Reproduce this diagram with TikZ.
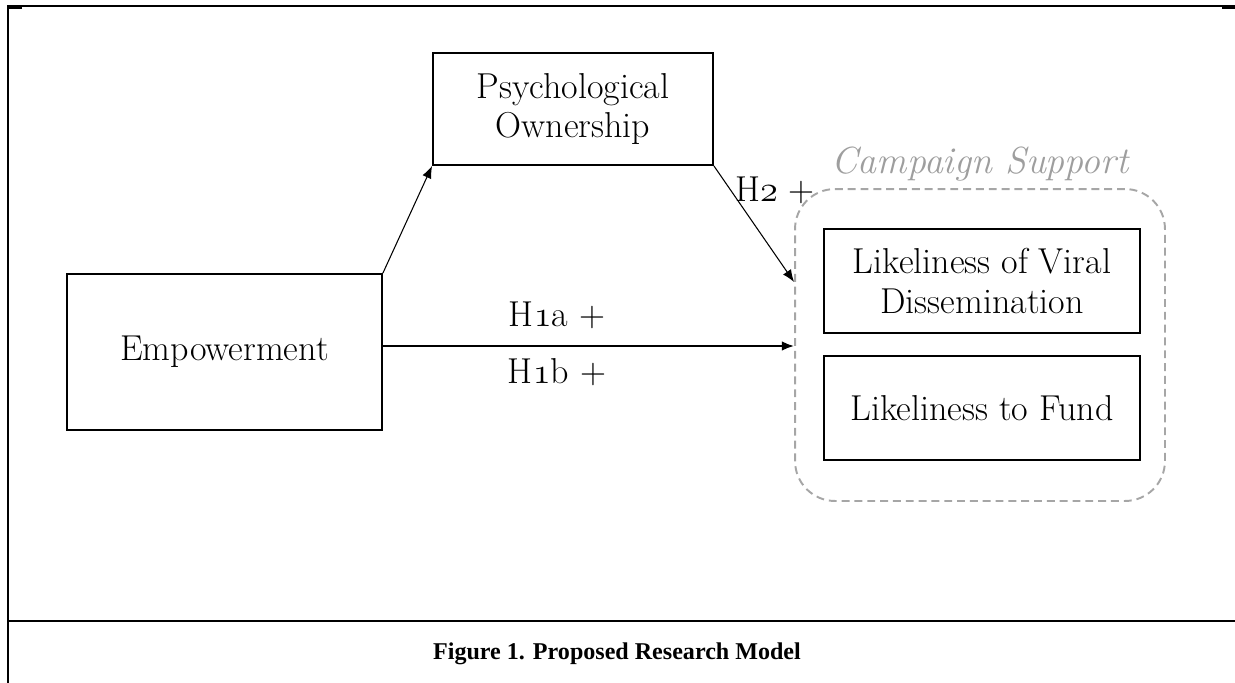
\documentclass[tikz,border=0pt]{standalone}
\usepackage{fontspec}
\usepackage{tikz}
\usetikzlibrary{arrows.meta, positioning}
\newfontfamily\capfont{Liberation Serif}
\newcommand{\onum}[1]{{\usefont{OML}{cmm}{m}{it}#1}}

\begin{document}
\begin{tikzpicture}[x=0.02cm, y=-0.02cm,
        box/.style={rectangle, draw=black, line width=1.1pt, align=center, font=\fontsize{20.5}{22.5}\selectfont},
        group/.style={draw=black!35, line width=1.1pt, dash pattern=on 4.5pt off 2.8pt, rounded corners=0.8cm},
        hyp/.style={font=\fontsize{20.5}{22.5}\selectfont},
        thinline/.style={draw, line width=0.6pt, -{Latex[length=7pt,width=5.5pt]}},
        mainline/.style={draw, line width=1.1pt, -{Latex[length=7pt,width=5.5pt]}}
    ]
        \useasboundingbox (0,0) rectangle (1235,683);
        % table frame
        \draw[line width=1.2pt] (7,6) -- (1235,6);
        \draw[line width=1.2pt] (8,6) -- (8,683);
        \draw[line width=1.2pt] (8,621) -- (1235,621);
        \draw[line width=1.8pt] (7,7) -- (22,7);
        \draw[line width=1.8pt] (1222,7) -- (1235,7);

        \node [box, minimum width=6.3cm, minimum height=3.12cm] (empow) at (224.5,352) {Empowerment};
        \node [box, minimum width=5.6cm, minimum height=2.24cm] (psych) at (573,109) {Psychological\\Ownership};
        \node [box, minimum width=6.32cm, minimum height=2.08cm] (viral) at (982,281) {Likeliness of Viral\\Dissemination};
        \node [box, minimum width=6.32cm, minimum height=2.08cm, below=0.42cm of viral] (fund) {Likeliness to Fund};
        \node [group, minimum width=7.4cm, minimum height=6.24cm] (support) at (980,345) {};
        \node [text=black!38, font=\fontsize{21.5}{23}\selectfont\itshape, above=0.02cm of support] (supportlbl) {Campaign Support};

        \coordinate (h2tip) at (support.west |- 0,282);

        \path [thinline] (empow.north east) -- (psych.south west);
        \path [thinline] (psych.south east) -- (h2tip);
        \path [mainline] ([yshift=0.12cm]empow.east) -- ([yshift=0.12cm]empow.east -| support.west);

        \node [hyp] (h1a) at (557,315) {H\onum{1}a +};
        \node [hyp] (h1b) at (557,372) {H\onum{1}b +};
        \node [hyp] (h2) at (775,190) {H\onum{2} +};

        \node [font=\capfont\bfseries\fontsize{13.7}{16}\selectfont] (caption) at (617,654) {Figure 1. Proposed Research Model};
    \end{tikzpicture}
\end{document}
